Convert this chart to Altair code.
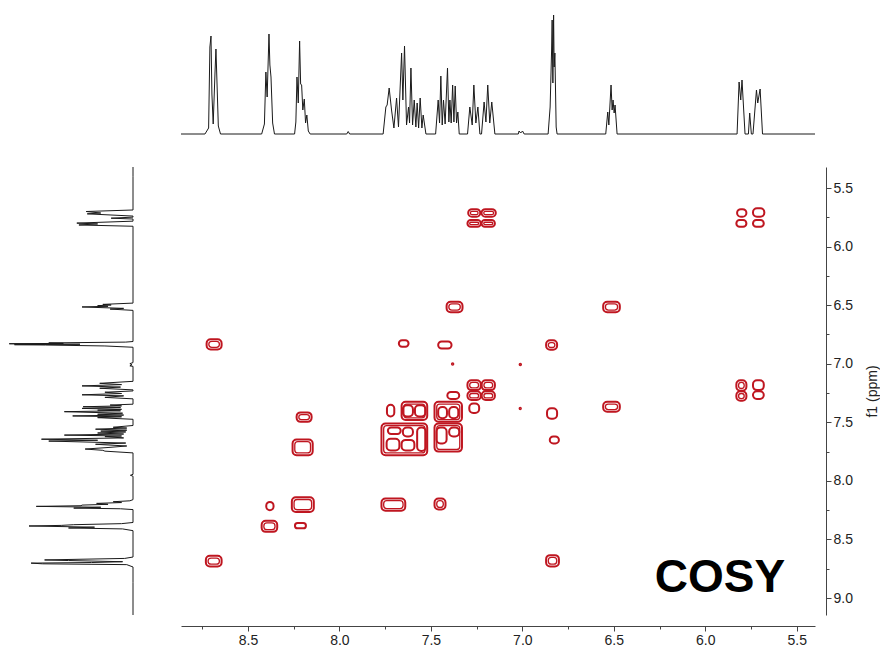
import altair as alt
import pandas as pd

# ---------------- 1D proton spectrum (ppm, intensity) read from the projections ----------------
SPEC_PPM = [
    9.145, 8.866,
    8.735, 8.715, 8.708, 8.702, 8.697, 8.690, 8.680, 8.675, 8.669, 8.662, 8.650,
    8.425, 8.410, 8.402, 8.395, 8.385, 8.380, 8.374, 8.365, 8.355,
    8.245, 8.238, 8.232, 8.225, 8.2175, 8.212, 8.2065, 8.200, 8.192, 8.185, 8.178, 8.170, 8.160,
    7.960, 7.952, 7.944,
    7.761, 7.746, 7.739, 7.728, 7.715, 7.702, 7.6875, 7.677, 7.660, 7.653, 7.644, 7.633, 7.622,
    7.6165, 7.609, 7.600, 7.591, 7.582, 7.575, 7.567, 7.5585, 7.549, 7.542, 7.527,
    7.474, 7.460, 7.4525, 7.4454, 7.438, 7.431, 7.422, 7.409, 7.4016, 7.396, 7.389, 7.381,
    7.374, 7.367, 7.3595, 7.3525, 7.345,
    7.2995, 7.287, 7.274, 7.265, 7.254, 7.243, 7.232,
    7.223, 7.209, 7.199, 7.189, 7.178, 7.167, 7.150,
    7.022, 7.018, 7.009, 6.999, 6.990,
    6.859, 6.848, 6.840, 6.837, 6.833, 6.829, 6.826, 6.822, 6.815, 6.810,
    6.544, 6.533, 6.527, 6.515, 6.509, 6.504, 6.498, 6.493, 6.482,
    5.826, 5.815, 5.806, 5.799, 5.7825,
    5.764, 5.757, 5.748,
    5.739, 5.720, 5.713, 5.700, 5.687,
    5.400, 5.320,
]
SPEC_INT = [
    0, 0,
    0, 6, 87, 98, 40, 10, 62, 85, 50, 8, 0,
    0, 10, 62, 37, 100, 69, 57, 11, 0,
    0, 12, 57, 31, 93, 50, 49, 24, 35, 11, 19, 3, 0,
    0, 2.5, 0,
    0, 27, 29, 46, 24, 6, 36, 7, 81, 34, 88, 9, 27,
    11, 66, 9, 34, 7, 31, 6, 36, 6, 19, 0,
    0, 34, 11, 58, 9, 34, 10, 66, 12, 34, 11, 49,
    12, 48, 11, 22, 0,
    0, 27, 9, 49, 11, 27, 0,
    0, 32, 12, 49, 11, 32, 0,
    0, 3, 1, 3, 0,
    0, 27, 84, 114, 51, 119, 67, 81, 7, 0,
    0, 22, 9, 49, 24, 34, 21, 29, 0,
    0, 52, 34, 54, 0,
    0, 21, 0,
    0, 44, 31, 45, 0,
    0, 0,
]

# ---------------- COSY contour islands: f2 range (x1 > x2), f1 range (y1 < y2), contour levels ----------------
PEAK_X1 = [7.296, 7.223, 7.300, 7.223, 7.414, 8.726, 7.675, 7.460,
           7.300, 7.222, 7.300, 7.222, 7.410, 7.290, 7.480, 7.660, 7.740, 7.770, 7.480,
           8.234, 8.256, 8.400, 8.260, 7.770, 7.480, 8.425, 8.243, 8.730,
           5.826, 5.739, 5.830, 5.739, 6.558, 6.870, 5.830, 5.830, 5.739, 5.739,
           6.558, 6.865, 6.850, 6.870, 7.385, 7.015, 7.015,
           7.735, 7.653, 7.742, 7.660, 7.575, 7.469, 7.400, 7.460, 7.400, 7.653, 7.587]
PEAK_X2 = [7.230, 7.145, 7.227, 7.150, 7.327, 8.644, 7.622, 7.387,
           7.227, 7.150, 7.227, 7.150, 7.345, 7.236, 7.330, 7.520, 7.700, 7.520, 7.330,
           8.152, 8.146, 8.360, 8.140, 7.640, 7.420, 8.340, 8.183, 8.644,
           5.775, 5.677, 5.775, 5.680, 6.467, 6.810, 5.775, 5.775, 5.680, 5.680,
           6.467, 6.810, 6.800, 6.800, 7.377, 7.007, 7.008,
           7.665, 7.598, 7.672, 7.590, 7.528, 7.414, 7.345, 7.412, 7.350, 7.598, 7.530]
PEAK_Y1 = [5.680, 5.680, 5.773, 5.773, 6.470, 6.790, 6.800, 6.810,
           7.140, 7.140, 7.235, 7.235, 7.240, 7.340, 7.325, 7.325, 7.350, 7.510, 7.510,
           7.415, 7.646, 8.180, 8.140, 8.150, 8.150, 8.340, 8.360, 8.640,
           5.680, 5.673, 5.773, 5.773, 6.470, 6.800, 7.140, 7.235, 7.140, 7.235,
           7.325, 7.380, 7.620, 8.634, 6.995, 7.000, 7.375,
           7.545, 7.545, 7.640, 7.650, 7.545, 7.545, 7.545, 7.370, 7.370, 7.355, 7.355]
PEAK_Y2 = [5.745, 5.745, 5.830, 5.830, 6.560, 6.878, 6.855, 6.870,
           7.225, 7.225, 7.310, 7.310, 7.300, 7.420, 7.495, 7.480, 7.450, 7.780, 7.750,
           7.496, 7.780, 8.250, 8.265, 8.255, 8.245, 8.435, 8.405, 8.730,
           5.745, 5.745, 5.830, 5.830, 6.560, 6.880, 7.230, 7.316, 7.225, 7.300,
           7.410, 7.470, 7.680, 8.730, 7.008, 7.012, 7.388,
           7.600, 7.620, 7.740, 7.740, 7.745, 7.680, 7.620, 7.465, 7.465, 7.450, 7.450]
PEAK_LEVEL = [2, 2, 2, 2, 2, 2, 1, 1,
              2, 2, 2, 2, 1, 1, 2, 2, 1, 2, 2,
              2, 2, 1, 2, 2, 2, 2, 1, 2,
              1, 1, 1, 1, 2, 2, 2, 2, 1, 1,
              2, 1, 1, 2, 1, 1, 1,
              1, 1, 1, 1, 1, 1, 1, 1, 1, 1, 1]

# ---------------- axis ticks / annotation ----------------
TICKS_X = [5.5, 5.75, 6.0, 6.25, 6.5, 6.75, 7.0, 7.25, 7.5, 7.75, 8.0, 8.25, 8.5, 8.75]
TICKS_Y = [5.5, 5.75, 6.0, 6.25, 6.5, 6.75, 7.0, 7.25, 7.5, 7.75, 8.0, 8.25, 8.5, 8.75, 9.0]
LABEL_TEXT = ["COSY"]
LABEL_X = [5.92]
LABEL_Y = [8.95]

X_DOMAIN = [5.40, 8.866]
Y_DOMAIN = [5.32, 9.145]

RED = "#bf1620"
FONT = "Liberation Sans"

spec = pd.DataFrame({"ppm": SPEC_PPM, "inten": SPEC_INT})
spec["idx"] = range(len(spec))
peaks = pd.DataFrame({"x1": PEAK_X1, "x2": PEAK_X2, "y1": PEAK_Y1, "y2": PEAK_Y2, "lv": PEAK_LEVEL})
ann = pd.DataFrame({"x": LABEL_X, "y": LABEL_Y, "t": LABEL_TEXT})

xs = alt.Scale(domain=X_DOMAIN, range=[807, 173], nice=False, zero=False)
ys = alt.Scale(domain=Y_DOMAIN, range=[159, 607], nice=False, zero=False)

major = "datum.value % 0.5 === 0"
tick_size = {"condition": {"test": major, "value": 5}, "value": 3}
lab_expr = f"{major} ? format(datum.value, '.1f') : ''"

x_axis = alt.Axis(values=TICKS_X, orient="bottom", offset=11, grid=False, title=None,
                  labelExpr=lab_expr, tickSize=tick_size, labelFlush=False,
                  domainColor="#444", tickColor="#444", labelColor="#222",
                  labelFont=FONT, labelFontSize=14, labelPadding=2)
y_axis = alt.Axis(values=TICKS_Y, orient="right", offset=11, grid=False, title="f1 (ppm)",
                  labelExpr=lab_expr, tickSize=tick_size, labelFlush=False,
                  domainColor="#444", tickColor="#444", labelColor="#222",
                  labelFont=FONT, labelFontSize=14, labelPadding=2,
                  titleFont=FONT, titleFontSize=14, titleFontWeight="normal", titleColor="#222",
                  titleAngle=270, titleBaseline="top", titlePadding=13)

top = alt.Chart(spec).transform_filter(
    "datum.ppm >= 5.40 && datum.ppm <= 8.866"
).mark_line(color="#1a1a1a", strokeWidth=1).encode(
    x=alt.X("ppm:Q", scale=xs, axis=None),
    y=alt.Y("inten:Q", scale=alt.Scale(domain=[0, 120], range=[126, 6], nice=False, zero=False), axis=None),
    order="idx:Q",
)

left = alt.Chart(spec).mark_line(color="#1a1a1a", strokeWidth=1).encode(
    x=alt.X("inten:Q", scale=alt.Scale(domain=[0, 120], range=[125, 0.2], nice=False, zero=False), axis=None),
    y=alt.Y("ppm:Q", scale=ys, axis=None),
    order="idx:Q",
)

outer = alt.Chart(peaks).mark_rect(filled=False, color=RED, strokeWidth=2.0, cornerRadius=4).encode(
    x=alt.X("x1:Q", scale=xs, axis=x_axis), x2="x2:Q",
    y=alt.Y("y1:Q", scale=ys, axis=y_axis), y2="y2:Q",
)
inner = alt.Chart(peaks).transform_filter("datum.lv >= 2").mark_rect(
    filled=False, color=RED, strokeWidth=1.3, cornerRadius=3,
    xOffset=2.2, x2Offset=-2.2, yOffset=2.2, y2Offset=-2.2,
).encode(
    x=alt.X("x1:Q", scale=xs, axis=None), x2="x2:Q",
    y=alt.Y("y1:Q", scale=ys, axis=None), y2="y2:Q",
)

label = alt.Chart(ann).mark_text(fontSize=46, fontWeight="bold", font=FONT, align="center",
                                 baseline="alphabetic", color="black").encode(
    x=alt.X("x:Q", scale=xs, axis=None),
    y=alt.Y("y:Q", scale=ys, axis=None),
    text="t:N",
)

chart = alt.layer(top, left, outer, inner, label).resolve_scale(
    x="independent", y="independent"
).properties(
    width=807, height=607,
    padding={"left": 0, "top": 0, "right": 65, "bottom": 35},
    autosize=alt.AutoSizeParams(type="none"),
).configure_view(stroke=None)

chart.save("out.html", embed_options={"renderer": "svg", "actions": False})
